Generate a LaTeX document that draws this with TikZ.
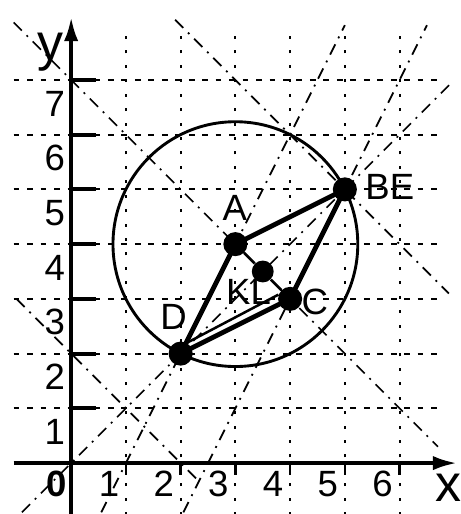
\documentclass[tikz,border=0pt]{standalone}
\usepackage{fontspec}
\setmainfont{Liberation Sans}
\usetikzlibrary{arrows.meta}

\begin{document}
\begin{tikzpicture}[
  quadh/.style={line width=1pt, dash pattern=on 3pt off 4pt},
  quadv/.style={line width=1pt, dash pattern=on 1.5pt off 6pt},
  recta/.style={line width=0.9pt, dash pattern=on 6pt off 3.5pt on 1pt off 3.5pt},
  eix/.style={line width=2pt, -{Latex[length=4.4mm,width=2.6mm]}},
  costat/.style={line width=2.5pt},
  prim/.style={line width=1.3pt},
  punt/.style={circle, fill, inner sep=0pt, minimum size=0.44cm},
  etiq/.style={font=\fontsize{19}{19}\selectfont, inner sep=0pt}
]
  \useasboundingbox (-1.30,-0.93) rectangle (7.12,8.46);
  % Quadricula
  \foreach \i in {1,...,7} \draw[quadh] (-1.05,\i) -- (6.8,\i);
  \foreach \i in {1,...,6} \draw[quadv] (\i,-0.95) -- (\i,8);
  % Rectes auxiliars
  \draw[recta] (-0.9,-0.9) -- (6.95,6.95);
  \draw[recta] (0.55,-0.9) -- (5,8);
  \draw[recta] (2.05,-0.9) -- (6.5,8);
  \draw[recta] (-1.05,8.05) -- (6.7,0.3);
  \draw[recta] (1.9,8.1) -- (6.9,3.1);
  \draw[recta] (-1,3) -- (2.3,-0.3);
  % Eixos
  \draw[eix] (-1.05,0) -- (7.05,0);
  \draw[eix] (0,-0.95) -- (0,8.15);
  \foreach \i in {1,...,7} \draw[line width=2pt] (0,\i) -- (0.45,\i);
  \foreach \i in {1,...,6} \draw[line width=1.2pt] (\i,0) -- (\i,-0.22);
  \foreach \i in {1,...,6} \node[etiq] (nx\i) at ({\i-0.31},-0.38) {\i};
  \foreach \i in {1,...,7} \node[etiq] (ny\i) at (-0.3,{\i-0.43}) {\i};
  \node[etiq, font=\fontsize{19}{19}\selectfont\bfseries] (n0) at (-0.27,-0.38) {0};
  \node[font=\fontsize{27}{27}\selectfont, inner sep=0pt] (lx) at (6.9,-0.46) {x};
  \node[font=\fontsize{27}{27}\selectfont, inner sep=0pt] (ly) at (-0.38,7.51) {y};
  % Punts
  \node[punt] (A) at (3,4) {};
  \node[punt] (B) at (5,5) {};
  \node[punt] (C) at (4,3) {};
  \node[punt] (D) at (2,2) {};
  \node[punt, minimum size=0.4cm] (K) at (3.5,3.5) {};
  % Circumferencia de centre A
  \draw[line width=1.5pt] (A.center) circle ({sqrt(5)});
  % Paral.lelogram
  \draw[costat] (A.center) -- (B.center) -- (C.center) -- (D.center) -- cycle;
  \draw[prim] (A) -- (K) -- (C);
  \draw[prim] (D.60) -- (C.160);
  % Etiquetes
  \node[etiq] (lA) at (2.99,4.66) {A};
  \node[etiq] (lB) at (5.82,5.05) {BE};
  \node[etiq] (lC) at (4.45,2.94) {C};
  \node[etiq] (lD) at (1.87,2.67) {D};
  \node[etiq] (lK) at (3.24,3.13) {KL};
\end{tikzpicture}
\end{document}
